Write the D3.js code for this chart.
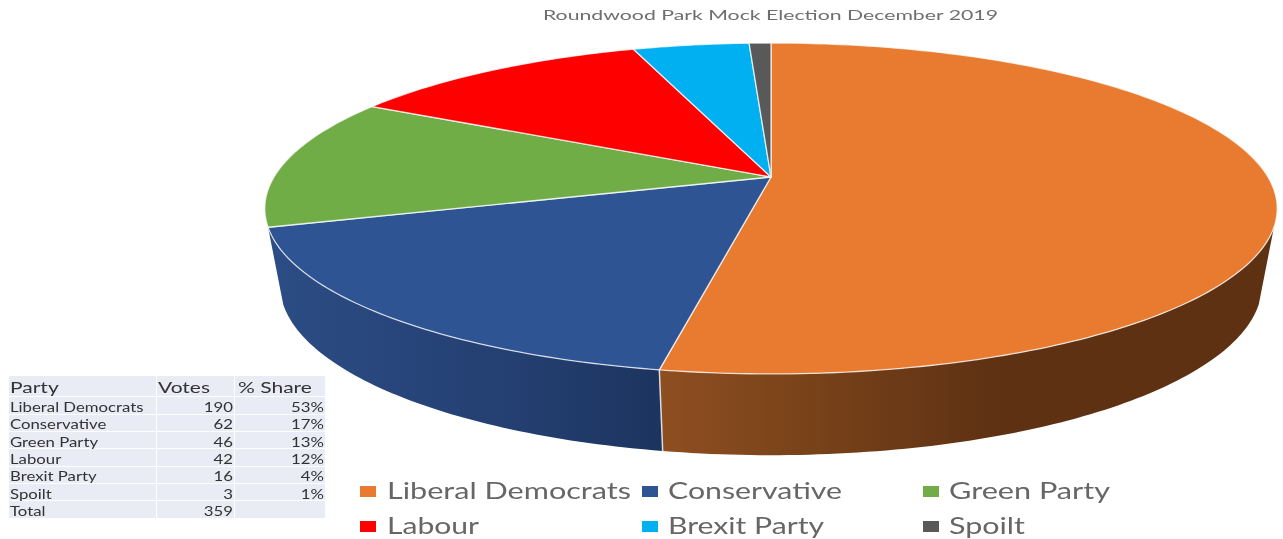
<!DOCTYPE html>
<html>
<head>
<meta charset="utf-8">
<script src="https://cdn.jsdelivr.net/npm/d3@7"></script>
<style>
  html, body { margin: 0; padding: 0; background: #fff; }
  svg { display: block; }
  text { font-family: Lato, "Open Sans", sans-serif; }
  .soft { filter: blur(0.45px); }
  .softer { filter: blur(0.65px); }
</style>
</head>
<body>
<div class="canva"></div>
<script>
const parties = ["Liberal Democrats", "Conservative", "Green Party", "Labour", "Brexit Party", "Spoilt"];
const votes = [190, 62, 46, 42, 16, 3];
const shareLabels = ["53%", "17%", "13%", "12%", "4%", "1%"];
const totalLabel = "Total";
const totalVotes = "359";
const tableHeader = ["Party", "Votes", "% Share"];
const title = "Roundwood Park Mock Election December 2019";
const colors = ["#E97B30", "#2E5493", "#70AD47", "#FF0000", "#00B0F0", "#595959"];

const width = 1283, height = 539;

const svg = d3.select(".canva").append("svg")
    .attr("width", width)
    .attr("height", height);

// perspective projection of the pie's top and bottom discs
const tilt = 0.19;
const topDisc = {cx: 771, cy: 177, a: 497, b: 159.5};
const bottomDisc = {cx: 771, cy: 252.7, a: 482, b: 164};

function project(disc, angle) {
    const u = Math.sin(angle), v = -Math.cos(angle);
    const w = 1 - tilt * v;
    return [disc.cx + disc.a * u / w, disc.cy + disc.b * v / w];
}

function arcPoints(disc, start, end) {
    const steps = Math.max(2, Math.ceil(Math.abs(end - start) * 60));
    return d3.range(steps + 1).map(i => project(disc, start + (end - start) * i / steps));
}

const arcs = d3.pie().sort(null)(votes);
const line = d3.line();

const defs = svg.append("defs");

function wallGradient(id, x1, x2, stops) {
    const g = defs.append("linearGradient")
        .attr("id", id)
        .attr("gradientUnits", "userSpaceOnUse")
        .attr("x1", x1).attr("x2", x2).attr("y1", 0).attr("y2", 0);
    stops.forEach(s => g.append("stop").attr("offset", s[0]).attr("stop-color", s[1]));
}
wallGradient("wallOrange", 662, 1000, [[0, "#8E4E20"], [0.4, "#7A431A"], [1, "#5E3113"]]);
wallGradient("wallBlue", 280, 662, [[0, "#2B4C84"], [0.6, "#243F71"], [1, "#1C345F"]]);

// only the two front slices show a side wall
const consEnd = arcs[1].endAngle;
const walls = [
    {start: 2 * Math.PI - consEnd, end: arcs[0].endAngle, fill: "url(#wallOrange)"},
    {start: arcs[1].startAngle, end: consEnd, fill: "url(#wallBlue)"}
];

const pie = svg.append("g").attr("class", "soft");

pie.selectAll("path.wall")
    .data(walls)
    .enter().append("path")
    .attr("class", "wall")
    .attr("fill", d => d.fill)
    .attr("d", d => line(arcPoints(topDisc, d.start, d.end)
        .concat(arcPoints(bottomDisc, d.end, d.start))) + "Z");

pie.append("path")
    .attr("fill", "none")
    .attr("stroke", "#d9dde2")
    .attr("stroke-width", 1.5)
    .attr("d", line([project(topDisc, arcs[0].endAngle), project(bottomDisc, arcs[0].endAngle)]));

pie.selectAll("path.slice")
    .data(arcs)
    .enter().append("path")
    .attr("class", "slice")
    .attr("fill", (d, i) => colors[i])
    .attr("stroke", "#fff")
    .attr("stroke-opacity", 0.75)
    .attr("stroke-width", 1.3)
    .attr("stroke-linejoin", "round")
    .attr("d", d => line([[topDisc.cx, topDisc.cy]].concat(arcPoints(topDisc, d.startAngle, d.endAngle))) + "Z");

// squeeze or stretch a label so it covers the wanted width
function fit(sel, w) {
    sel.attr("textLength", w).attr("lengthAdjust", "spacingAndGlyphs");
}

svg.append("text")
    .attr("class", "softer")
    .attr("x", 543)
    .attr("y", 20)
    .attr("font-size", 14)
    .attr("fill", "#6e6e6e")
    .text(title)
    .call(fit, 455);

// legend
const legendX = [360, 642, 923];
const legendTextX = [387, 668, 949];
const legendBase = [499, 534];
const legendWidths = [244, 174, 161, 92, 156, 76];

const legend = svg.append("g").attr("class", "soft");

legend.selectAll("rect")
    .data(parties)
    .enter().append("rect")
    .attr("x", (d, i) => legendX[i % 3])
    .attr("y", (d, i) => legendBase[Math.floor(i / 3)] - 13)
    .attr("width", 16)
    .attr("height", 11)
    .attr("fill", (d, i) => colors[i]);

legend.selectAll("text")
    .data(parties)
    .enter().append("text")
    .attr("x", (d, i) => legendTextX[i % 3])
    .attr("y", (d, i) => legendBase[Math.floor(i / 3)])
    .attr("font-size", 23)
    .attr("fill", "#666")
    .text(d => d)
    .each(function(d, i) { d3.select(this).call(fit, legendWidths[i]); });

// table under the pie
const colEdges = [9, 157, 235, 326];
const rowEdges = [376, 397, 415, 432, 449, 467, 484, 501, 519];
const rowBase = [393, 412, 429, 446.5, 463.5, 481, 498.5, 516];

const tableRows = [tableHeader]
    .concat(parties.map((p, i) => [p, String(votes[i]), shareLabels[i]]))
    .concat([[totalLabel, totalVotes, ""]]);

const table = svg.append("g").attr("class", "softer");

const rows = table.selectAll("g")
    .data(tableRows)
    .enter().append("g");

rows.each(function(row, r) {
    const g = d3.select(this);
    g.selectAll("rect")
        .data(row)
        .enter().append("rect")
        .attr("x", (d, c) => colEdges[c])
        .attr("y", rowEdges[r])
        .attr("width", (d, c) => colEdges[c + 1] - colEdges[c] - 1)
        .attr("height", rowEdges[r + 1] - rowEdges[r] - 1)
        .attr("fill", "#E9EBF5");

    const header = r === 0;
    const cells = g.selectAll("text")
        .data(row)
        .enter().append("text")
        .attr("y", rowBase[r])
        .attr("fill", "#333")
        .attr("font-size", header ? 15 : 12.5)
        .attr("x", (d, c) => c === 0 ? 10 : (header ? (c === 1 ? 158 : 238) : colEdges[c + 1] - 2))
        .attr("text-anchor", (d, c) => (c === 0 || header) ? "start" : "end")
        .text(d => d);

    // the source table is stretched sideways
    cells.each(function() {
        const t = d3.select(this);
        if (!t.text()) return;
        t.call(fit, this.getComputedTextLength() * (header ? 1.4 : 1.34));
    });
});
</script>
</body>
</html>
